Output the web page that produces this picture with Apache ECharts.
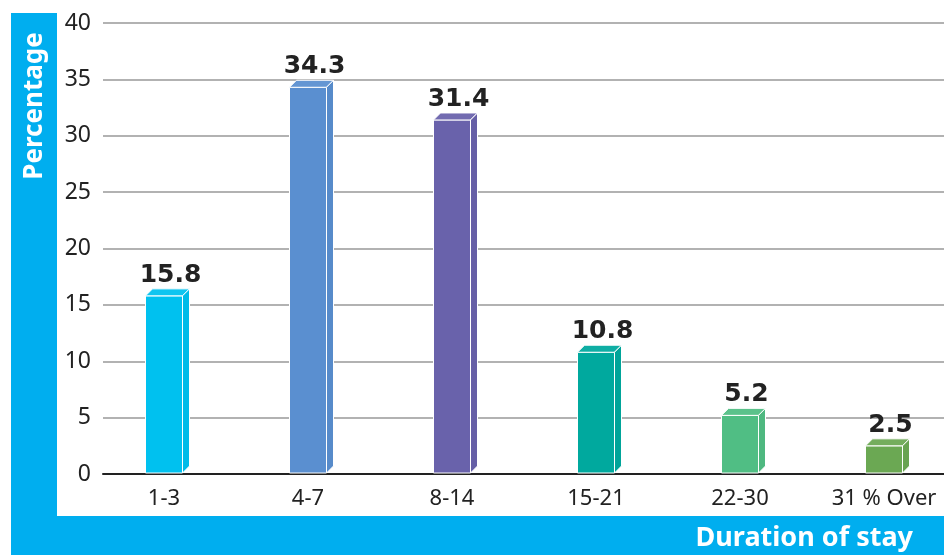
<!DOCTYPE html>
<html>
<head>
<meta charset="utf-8">
<script src="https://cdn.jsdelivr.net/npm/echarts@6/dist/echarts.min.js"></script>
<style>html,body{margin:0;padding:0;background:#fff}#c{width:944px;height:555px}</style>
</head>
<body>
<div id="c"></div>
<script>
const categories = ['1-3', '4-7', '8-14', '15-21', '22-30', '31 % Over'];
const values = [15.8, 34.3, 31.4, 10.8, 5.2, 2.5];
const yTicks = [0, 5, 10, 15, 20, 25, 30, 35, 40];
const barColors = ['#00C1EF', '#5A8FD0', '#6962AB', '#00A99E', '#50BE84', '#6BA853'];

const chart = echarts.init(document.getElementById('c'), null, {renderer: 'canvas'});
const FONT = '"Noto Sans", "DejaVu Sans", sans-serif';

function shade(hex, f) {
  const n = parseInt(hex.slice(1), 16);
  let r = (n >> 16) & 255, g = (n >> 8) & 255, b = n & 255;
  const m = c => Math.max(0, Math.min(255, Math.round(f > 0 ? c + (255 - c) * f : c * (1 + f))));
  return 'rgb(' + m(r) + ',' + m(g) + ',' + m(b) + ')';
}

const option = {
  animation: false,
  grid: [
    {left: 103, right: 0, top: 23, bottom: 81, containLabel: false, outerBoundsMode: 'none'},
    {left: 92, right: -12, top: 23, bottom: 81, containLabel: false, outerBoundsMode: 'none'}
  ],
  xAxis: [
    {gridIndex: 0, type: 'category', data: categories, axisLine: {show: true, lineStyle: {color: '#222', width: 2}},
     axisTick: {show: false}, axisLabel: {show: false}},
    {gridIndex: 1, type: 'category', data: categories, axisLine: {show: false}, axisTick: {show: false},
     axisLabel: {color: '#222', fontSize: 22, fontFamily: FONT, margin: 14}}
  ],
  yAxis: [
    {gridIndex: 0, type: 'value', min: 0, max: 40, interval: 5,
     axisLine: {show: false}, axisTick: {show: false},
     axisLabel: {color: '#222', fontSize: 23, fontFamily: FONT, margin: 12,
       formatter: v => yTicks.includes(v) ? String(v) : ''},
     splitLine: {lineStyle: {color: '#999', width: 1.5}}},
    {gridIndex: 1, type: 'value', min: 0, max: 40, interval: 5, show: false, splitLine: {show: false}}
  ],
  series: [{
    type: 'custom',
    xAxisIndex: 1, yAxisIndex: 1,
    clip: false,
    data: values.map((v, i) => [i, v]),
    renderItem: function (params, api) {
      const i = api.value(0), v = api.value(1);
      const top = api.coord([i, v]);
      const base = api.coord([i, 0]);
      const w = 37, d = 7;
      const x0 = top[0] - w / 2, x1 = top[0] + w / 2;
      const yt = top[1], yb = base[1] - 1;
      const col = barColors[i];
      const stroke = {stroke: '#fff', lineWidth: 1};
      return {
        type: 'group',
        children: [
          {type: 'rect', shape: {x: x0, y: yt, width: w, height: yb - yt}, style: Object.assign({fill: col}, stroke)},
          {type: 'polygon', shape: {points: [[x0, yt], [x0 + d, yt - d], [x1 + d, yt - d], [x1, yt]]},
            style: Object.assign({fill: shade(col, 0.06)}, stroke)},
          {type: 'polygon', shape: {points: [[x1, yt], [x1 + d, yt - d], [x1 + d, yb - d], [x1, yb]]},
            style: Object.assign({fill: shade(col, -0.03)}, stroke)},
          {type: 'text', style: {text: String(v), x: top[0] + d / 2 + 3, y: yt - d - 1,
            textAlign: 'center', textVerticalAlign: 'bottom', fill: '#222',
            font: 'bold 25px "DejaVu Sans", sans-serif'}}
        ]
      };
    }
  }],
  graphic: [
    {type: 'rect', left: 11, top: 13, shape: {width: 46, height: 542}, style: {fill: '#00AEEF'}, z: 10},
    {type: 'rect', left: 11, top: 516, shape: {width: 933, height: 39}, style: {fill: '#00AEEF'}, z: 10},
    {type: 'text', x: 35, y: 106, rotation: Math.PI / 2, z: 11,
     style: {text: 'Percentage', textAlign: 'center', textVerticalAlign: 'middle', fill: '#fff',
       font: 'bold 26px ' + FONT}},
    {type: 'text', x: 913, y: 538, z: 11,
     style: {text: 'Duration of stay', textAlign: 'right', textVerticalAlign: 'middle', fill: '#fff',
       font: 'bold 27px ' + FONT}}
  ]
};
chart.setOption(option);
</script>
</body>
</html>
